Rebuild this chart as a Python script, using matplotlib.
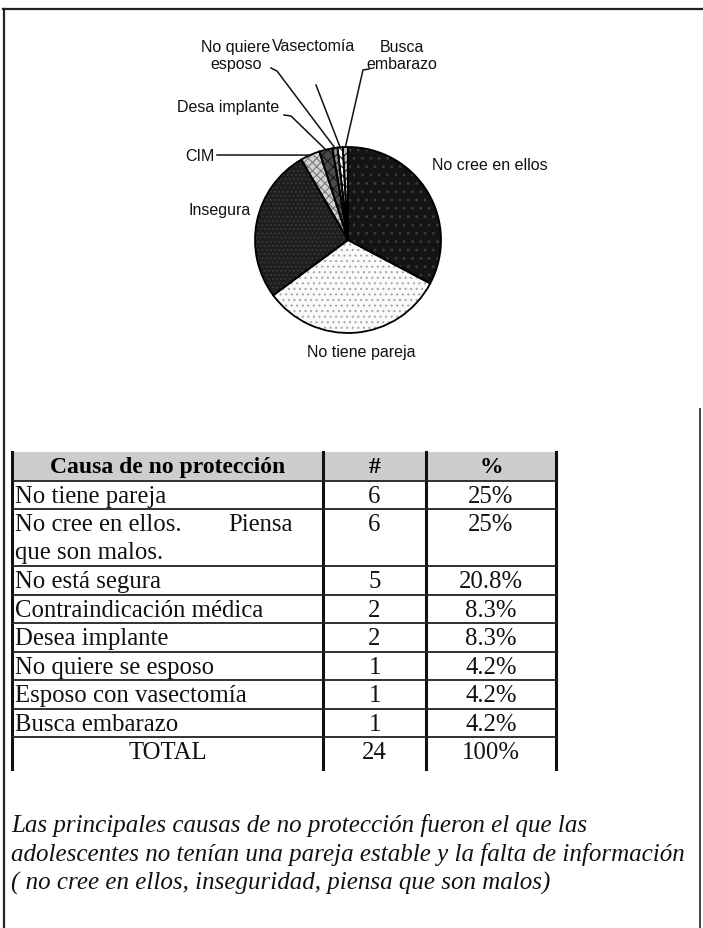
import numpy as np
import matplotlib
matplotlib.use('Agg')
import matplotlib.pyplot as plt

# pie as drawn (slice sizes, clockwise from the top)
pie_labels = ['No cree en ellos', 'No tiene pareja', 'Insegura', 'CIM',
              'Desa implante', 'No quiere\nesposo', 'Vasectomía', 'Busca\nembarazo']
pie_values = [32.8, 32.2, 26.8, 3.4, 2.3, 0.9, 0.9, 0.9]

# table
headers = ['Causa de no protección', '#', '%']
causas = ['No tiene pareja', 'No cree en ellos.', 'No está segura',
          'Contraindicación médica', 'Desea implante', 'No quiere se esposo',
          'Esposo con vasectomía', 'Busca embarazo']
counts = [6, 6, 5, 2, 2, 1, 1, 1]
percents = ['25%', '25%', '20.8%', '8.3%', '8.3%', '4.2%', '4.2%', '4.2%']
total_label = 'TOTAL'
total_count = 24
total_pct = '100%'

nota = ('Las principales causas de no protección fueron el que las\n'
        'adolescentes no tenían una pareja estable y la falta de información\n'
        '( no cree en ellos, inseguridad, piensa que son malos)')

W, H = 703, 929
serif = 'Liberation Serif'
sans = 'Liberation Sans'
plt.rcParams['hatch.linewidth'] = 0.8


def Y(y):
    # page pixels measured from the top
    return H - y


fig = plt.figure(figsize=(W / 100, H / 100), dpi=100)
ax = fig.add_axes([0, 0, 1, 1])

# page frame
ax.plot([3, W], [Y(10), Y(10)], color='#222', lw=1.6)
ax.plot([4, 4], [Y(10), Y(929)], color='#222', lw=1.6)
ax.plot([700, 700], [Y(410), Y(929)], color='#444', lw=1.4)

# ---- pie ----
cx, cy, r = 348, Y(241), 93
faces = ['#141414', '#fafafa', '#1e1e1e', '#d2d2d2', '#4a4a4a', '#8a8a8a', '#ffffff', '#bdbdbd']
hcols = ['#3c3c3c', '#a8a8a8', '#3a3a3a', '#7a7a7a', '#1a1a1a', '#2a2a2a', '#111111', '#111111']
hatches = ['..', '...', '....', 'xxxx', 'xxx', '////', '\\\\\\\\', '////']
wedges, _ = ax.pie(pie_values, center=(cx, cy), radius=r, startangle=90,
                   counterclock=False, colors=faces, frame=True,
                   wedgeprops=dict(linewidth=0))
for w, hc, ht in zip(wedges, hcols, hatches):
    w.set_hatch(ht)
    w.set_edgecolor(hc)
ax.pie(pie_values, center=(cx, cy), radius=r, startangle=90, counterclock=False,
       colors=['none'] * len(pie_values), frame=True,
       wedgeprops=dict(linewidth=1.3, edgecolor='black'))


def edge_point(i):
    w = wedges[i]
    a = np.deg2rad((w.theta1 + w.theta2) / 2)
    return cx + r * np.cos(a), cy + r * np.sin(a)


lab_kw = dict(family=sans, fontsize=11.5, color='#111')
ax.text(432, Y(165), pie_labels[0], ha='left', va='center', **lab_kw)
ax.text(361, Y(352), pie_labels[1], ha='center', va='center', **lab_kw)
ax.text(189, Y(211), pie_labels[2], ha='left', va='center', **lab_kw)
ax.text(185, Y(156), pie_labels[3], ha='left', va='center', **lab_kw)
ax.text(177, Y(107), pie_labels[4], ha='left', va='center', **lab_kw)
ax.text(236, Y(56), pie_labels[5], ha='center', va='center', linespacing=1.15, **lab_kw)
ax.text(272, Y(46), pie_labels[6], ha='left', va='center', **lab_kw)
ax.text(402, Y(56), pie_labels[7], ha='center', va='center', linespacing=1.15, **lab_kw)

leaders = {3: [(217, Y(156))],
           4: [(284, Y(116)), (291, Y(117))],
           5: [(271, Y(69)), (277, Y(72))],
           6: [(316, Y(86))],
           7: [(369, Y(70)), (363, Y(71))]}
for i, pts in leaders.items():
    ex, ey = edge_point(i)
    xs = [p[0] for p in pts] + [ex]
    ys = [p[1] for p in pts] + [ey]
    ax.plot(xs, ys, color='#111', lw=1.1)

# ---- table ----
x_cols = [12, 323, 426, 556]
top = 453
row_h = 28.5
n_lines = [2 if c.startswith('No cree') else 1 for c in causas]
edges = [top, top + row_h]
for n in n_lines:
    edges.append(edges[-1] + row_h * n)
table_bottom = edges[-1] + row_h + 3

ax.fill_between([x_cols[0], x_cols[-1]], Y(edges[0]), Y(edges[1]), color='#cdcdcd', lw=0)
for x in x_cols:
    ax.plot([x, x], [Y(top), Y(table_bottom)], color='#111', lw=2.2)
for e in edges[1:]:
    ax.plot([x_cols[0], x_cols[-1]], [Y(e), Y(e)], color='#222', lw=1.3)

col_c = [(x_cols[i] + x_cols[i + 1]) / 2 for i in range(3)]
hy = (edges[0] + edges[1]) / 2
for c, h in zip(col_c, headers):
    ax.text(c, Y(hy), h, ha='center', va='center', family=serif,
            fontsize=17, fontweight='bold')

cell_kw = dict(family=serif, fontsize=17.8, color='#111')
for i, (c, n, p) in enumerate(zip(causas, counts, percents)):
    ty = edges[i + 1] + row_h / 2 + 1
    ax.text(15, Y(ty), c, ha='left', va='center', **cell_kw)
    if n_lines[i] == 2:
        ax.text(293, Y(ty), 'Piensa', ha='right', va='center', **cell_kw)
        ax.text(15, Y(ty + row_h - 1), 'que son malos.', ha='left', va='center', **cell_kw)
    ax.text(col_c[1], Y(ty), str(n), ha='center', va='center', **cell_kw)
    ax.text(col_c[2], Y(ty), p, ha='center', va='center', **cell_kw)
ty = edges[-1] + row_h / 2 + 1
ax.text(col_c[0], Y(ty), total_label, ha='center', va='center', **cell_kw)
ax.text(col_c[1], Y(ty), str(total_count), ha='center', va='center', **cell_kw)
ax.text(col_c[2], Y(ty), total_pct, ha='center', va='center', **cell_kw)

# ---- closing note ----
ax.text(11, Y(814), nota, ha='left', va='top', family=serif, style='italic',
        fontsize=18, linespacing=1.32, color='#111')

ax.set_xlim(0, W)
ax.set_ylim(0, H)
ax.set_aspect('auto')
ax.axis('off')

fig.savefig('out.png', dpi=100, facecolor='white')
